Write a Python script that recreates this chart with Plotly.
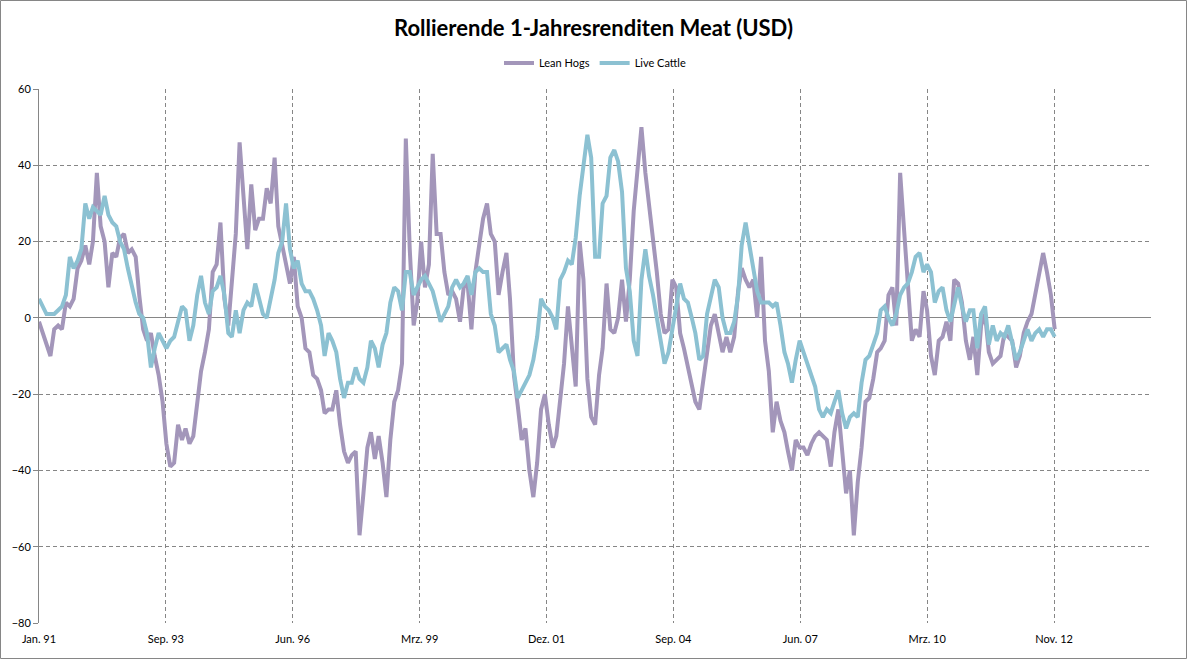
import pandas as pd
import plotly.graph_objects as go

start = "1991-01-01"
tick_labels = ["Jan. 91", "Sep. 93", "Jun. 96", "Mrz. 99", "Dez. 01",
               "Sep. 04", "Jun. 07", "Mrz. 10", "Nov. 12"]

lean_hogs = [
    -1, -4, -7, -10, -3, -2, -3, 4, 3, 5, 13, 15, 19, 14, 20, 38, 24, 20, 8, 17,
    16, 21, 22, 17, 18, 16, 6, -3, -6, -4, -10, -15, -22, -33, -39, -38, -28, -32, -29, -33,
    -31, -23, -14, -9, -3, 12, 14, 25, 5, -2, 9, 22, 46, 33, 18, 35, 23, 26, 26, 34,
    30, 42, 24, 19, 14, 9, 16, 3, 0, -8, -9, -15, -16, -19, -25, -24, -24, -19, -28, -35,
    -38, -36, -35, -57, -46, -34, -30, -37, -31, -38, -47, -32, -22, -19, -12, 47, 18, -2, 4, 20,
    8, 14, 43, 22, 22, 12, 6, 7, 5, -1, 8, 9, -3, 12, 19, 26, 30, 22, 20, 6,
    12, 17, 5, -15, -23, -32, -29, -40, -47, -38, -24, -20, -28, -34, -31, -22, -12, 3, -8, -18,
    20, 10, -16, -26, -28, -15, -8, 9, -3, -4, 0, 10, -1, 10, 28, 40, 50, 38, 30, 20,
    12, 1, -4, -3, 10, 8, -4, -8, -13, -17, -22, -24, -17, -8, -2, 1, -4, -9, -5, -9,
    -5, 7, 13, 10, 8, 10, 0, 16, -6, -14, -30, -22, -27, -30, -35, -40, -32, -34, -34, -36,
    -33, -31, -30, -31, -32, -39, -30, -24, -36, -46, -40, -57, -43, -34, -22, -21, -16, -9, -8, -6,
    6, 8, -2, 38, 23, 10, -6, -3, -5, 7, 2, -10, -15, -6, -5, -1, -6, 10, 9, 4,
    -6, -11, -5, -15, -2, 1, -9, -12, -11, -10, -4, -5, -6, -13, -10, -4, -1, 1, 6, 12,
    17, 12, 6, -3,
]

live_cattle = [
    5, 3, 1, 1, 1, 2, 3, 6, 16, 13, 15, 18, 30, 26, 29, 28, 27, 32, 27, 25,
    24, 20, 18, 13, 8, 4, 1, 0, -4, -13, -8, -4, -6, -8, -6, -5, -1, 3, 2, -6,
    -2, 6, 11, 4, 1, 7, 8, 11, 6, -4, -5, 2, -4, 2, 4, 3, 9, 5, 1, 0,
    5, 10, 17, 20, 30, 18, 13, 15, 9, 7, 7, 5, 2, -2, -10, -4, -6, -9, -16, -21,
    -17, -17, -13, -16, -17, -13, -6, -8, -13, -7, -4, 4, 8, 7, 2, 12, 12, 6, 8, 10,
    11, 9, 7, 3, -1, 1, 3, 8, 10, 8, 9, 11, 6, 12, 13, 12, 12, 1, -2, -9,
    -8, -7, -11, -14, -21, -19, -17, -15, -11, -5, 5, 3, 2, 0, -3, 10, 12, 15, 14, 21,
    32, 40, 48, 42, 16, 16, 30, 32, 42, 44, 41, 33, 13, 7, -6, -10, 10, 18, 11, 6,
    0, -7, -12, -9, -3, 3, 9, 5, 4, 0, -4, -11, -10, 1, 6, 10, 8, 0, -4, -4,
    -1, 6, 19, 25, 19, 12, 7, 4, 4, 4, 3, 4, -2, -9, -12, -17, -11, -6, -9, -12,
    -15, -18, -24, -26, -24, -25, -22, -19, -25, -29, -26, -25, -26, -17, -11, -10, -7, -4, 2, 3,
    0, -2, 1, 6, 8, 9, 12, 16, 17, 12, 14, 12, 4, 7, 8, 2, -1, 4, 8, 3,
    -1, 2, 2, -8, 1, 3, -7, -2, -6, -4, -5, -2, -6, -11, -9, -6, -3, -6, -4, -3,
    -5, -3, -3, -5,
]

dates = pd.date_range(start, periods=len(lean_hogs), freq="MS")
t0 = pd.Timestamp(start)
tick_vals = [t0 + pd.Timedelta(days=1000 * i) for i in range(len(tick_labels))]
x_end = t0 + pd.Timedelta(days=8764)

GRID = "#868686"
FONT = "Lato"
DASH = "4px,3px"

fig = go.Figure()
fig.add_trace(go.Scatter(x=dates, y=lean_hogs, mode="lines", name="Lean Hogs",
                         line=dict(color="#A396BA", width=4)))
fig.add_trace(go.Scatter(x=dates, y=live_cattle, mode="lines", name="Live Cattle",
                         line=dict(color="#8CC1D2", width=4)))

fig.update_layout(
    width=1187, height=659,
    margin=dict(l=39, r=36, t=89, b=36, autoexpand=False),
    paper_bgcolor="white", plot_bgcolor="white",
    font=dict(family=FONT, size=11, color="#000000"),
    title=dict(text="<b>Rollierende 1-Jahresrenditen Meat (USD)</b>",
               x=0.5, xanchor="center", y=1 - 28 / 659, yanchor="middle",
               automargin=False,
               font=dict(family=FONT, size=22, color="#000000")),
    legend=dict(orientation="h", x=0.5, xanchor="center",
                y=1 + (89 - 63) / 534, yanchor="middle",
                font=dict(family=FONT, size=11), itemwidth=30,
                bgcolor="rgba(0,0,0,0)"),
    showlegend=True,
)

fig.update_xaxes(
    type="date", range=[t0, x_end], automargin=False,
    tickvals=tick_vals, ticktext=tick_labels,
    showgrid=True, gridcolor=GRID, griddash=DASH, gridwidth=1,
    showline=False, zeroline=False, ticks="", ticklabelstandoff=8,
    tickfont=dict(family=FONT, size=11),
)
fig.update_yaxes(
    range=[-80, 60], dtick=20, tick0=0, automargin=False,
    showgrid=True, gridcolor=GRID, griddash=DASH, gridwidth=1,
    zeroline=True, zerolinecolor=GRID, zerolinewidth=1,
    showline=True, linecolor=GRID, linewidth=1,
    ticks="outside", ticklen=5, tickcolor=GRID,
    tickfont=dict(family=FONT, size=11),
)

fig.add_shape(type="rect", xref="paper", yref="paper",
              x0=(0.5 - 39) / 1112, x1=(1186.5 - 39) / 1112,
              y0=(623 - 658.5) / 534, y1=(623 - 0.5) / 534,
              line=dict(color=GRID, width=1), fillcolor="rgba(0,0,0,0)",
              layer="below")

fig.write_html("out.html",
               config={"displayModeBar": False},
               post_script="document.body.style.margin='0';document.body.style.overflow='hidden';")
